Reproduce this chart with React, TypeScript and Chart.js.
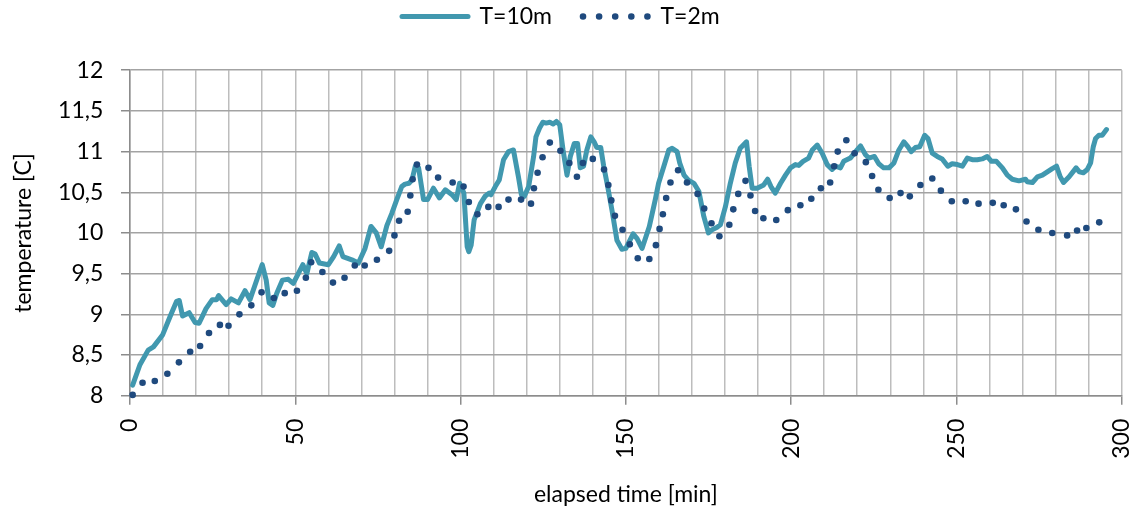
import React, { useEffect, useRef } from 'react';
import { Chart, registerables } from 'chart.js';

Chart.register(...registerables);

// T=10m series (elapsed minutes, temperature °C)
const time10 = [
  0.8, 3.0, 5.5, 7.1, 9.9, 12.1, 14.1, 14.9, 15.9, 17.9, 19.7, 20.9, 23.0, 24.9, 26.2, 26.8, 29.1, 30.6, 32.8, 34.8,
  36.3, 38.5, 40.0, 41.2, 42.1, 43.2, 44.4, 46.1, 47.9, 49.4, 52.3, 53.5, 55.0, 56.0, 57.3, 60.0, 61.6, 63.3, 64.4, 67.1,
  69.1, 71.1, 72.9, 74.5, 76.0, 77.7, 79.2, 80.7, 82.2, 83.2, 84.4, 85.3, 86.3, 87.3, 88.8, 90.0, 91.8, 93.6, 95.4, 97.4,
  98.7, 99.7, 101.0, 102.0, 102.5, 103.2, 104.1, 106.0, 107.4, 108.7, 109.2, 110.5, 111.7, 113.0, 114.5, 116.0, 117.5, 118.4, 119.3, 120.6,
  122.1, 122.8, 123.9, 124.9, 125.9, 127.0, 128.0, 129.0, 130.0, 131.0, 132.2, 133.2, 134.4, 135.4, 136.2, 137.2, 138.2, 139.4, 140.4, 141.2,
  142.4, 143.3, 144.5, 145.8, 147.3, 148.8, 150.0, 152.2, 153.4, 154.9, 157.1, 158.9, 159.9, 161.5, 163.0, 164.0, 165.5, 166.3, 167.6, 168.9,
  170.6, 172.1, 173.6, 175.0, 176.1, 177.6, 178.6, 180.1, 181.6, 183.1, 184.6, 186.5, 187.3, 188.2, 189.7, 191.7, 192.9, 193.9, 195.2, 196.8,
  198.3, 199.8, 201.3, 202.3, 203.6, 205.3, 206.4, 207.9, 209.4, 210.9, 212.4, 213.4, 214.9, 215.9, 217.9, 219.5, 221.0, 222.5, 223.5, 225.2,
  226.5, 228.0, 229.6, 231.1, 232.6, 234.1, 235.3, 236.3, 237.6, 238.9, 240.4, 241.4, 242.7, 244.2, 245.7, 247.4, 248.7, 250.3, 251.8, 253.3,
  254.8, 256.3, 257.8, 259.3, 260.6, 262.1, 263.9, 265.4, 266.9, 268.9, 270.9, 271.4, 273.0, 274.5, 276.0, 277.5, 279.0, 280.3, 281.4, 282.4,
  284.1, 286.2, 287.2, 288.4, 289.6, 290.6, 291.4, 292.1, 293.1, 294.1, 295.4,
];
const temp10 = [
  8.13, 8.38, 8.56, 8.6, 8.75, 8.97, 9.16, 9.17, 8.98, 9.02, 8.9, 8.89, 9.07, 9.18, 9.18, 9.23, 9.12, 9.19, 9.14, 9.29,
  9.18, 9.44, 9.61, 9.42, 9.14, 9.11, 9.26, 9.42, 9.43, 9.38, 9.61, 9.5, 9.76, 9.74, 9.63, 9.61, 9.71, 9.84, 9.71, 9.67,
  9.63, 9.81, 10.08, 10.0, 9.83, 10.09, 10.24, 10.41, 10.57, 10.6, 10.61, 10.65, 10.82, 10.8, 10.41, 10.41, 10.55, 10.43, 10.53, 10.47,
  10.41, 10.61, 10.49, 9.83, 9.77, 9.85, 10.16, 10.36, 10.45, 10.49, 10.47, 10.57, 10.65, 10.9, 11.0, 11.02, 10.69, 10.47, 10.45, 10.57,
  10.94, 11.18, 11.29, 11.36, 11.35, 11.36, 11.34, 11.37, 11.33, 11.02, 10.71, 10.94, 11.1, 11.1, 10.8, 10.82, 11.02, 11.18, 11.12, 11.05,
  11.05, 10.82, 10.57, 10.28, 9.91, 9.8, 9.81, 9.99, 9.93, 9.81, 10.08, 10.41, 10.61, 10.82, 11.02, 11.04, 11.0, 10.86, 10.71, 10.65,
  10.61, 10.51, 10.2, 10.0, 10.04, 10.07, 10.1, 10.32, 10.61, 10.86, 11.04, 11.12, 10.82, 10.55, 10.55, 10.59, 10.66, 10.57, 10.49, 10.61,
  10.71, 10.8, 10.84, 10.83, 10.88, 10.92, 11.02, 11.08, 10.98, 10.84, 10.78, 10.82, 10.8, 10.88, 10.92, 11.0, 11.07, 10.96, 10.92, 10.94,
  10.85, 10.8, 10.8, 10.86, 11.02, 11.12, 11.06, 11.0, 11.05, 11.06, 11.2, 11.16, 10.98, 10.94, 10.91, 10.82, 10.85, 10.84, 10.82, 10.92,
  10.9, 10.9, 10.91, 10.94, 10.88, 10.88, 10.8, 10.71, 10.66, 10.64, 10.66, 10.63, 10.62, 10.69, 10.71, 10.75, 10.79, 10.82, 10.69, 10.62,
  10.69, 10.8, 10.75, 10.74, 10.78, 10.86, 11.06, 11.16, 11.2, 11.2, 11.27,
];

// T=2m series
const time2 = [
  0.8, 3.8, 7.5, 11.3, 14.8, 18.2, 21.2, 23.9, 27.2, 29.8, 33.1, 36.7, 39.8, 43.5, 46.8, 50.5, 53.2, 54.8, 58.2, 61.4,
  64.9, 68.0, 71.0, 74.7, 78.4, 80.0, 81.4, 84.0, 84.8, 85.5, 86.8, 90.3, 93.2, 97.6, 100.9, 102.5, 105.1, 108.4, 111.5, 114.5,
  118.3, 121.3, 122.2, 123.3, 124.8, 127.0, 130.2, 132.9, 135.2, 137.0, 140.0, 143.4, 144.7, 145.6, 146.7, 149.0, 151.2, 153.6, 157.1, 159.1,
  160.2, 161.2, 162.2, 163.5, 165.8, 168.5, 171.7, 173.7, 175.9, 178.3, 181.3, 182.5, 184.0, 186.2, 187.7, 189.1, 191.6, 195.5, 199.0, 202.8,
  206.1, 209.0, 211.8, 213.0, 214.1, 216.7, 219.2, 222.6, 224.5, 226.4, 229.8, 233.1, 235.9, 239.1, 242.7, 245.3, 248.6, 252.8, 256.7, 261.0,
  264.3, 268.0, 271.2, 274.8, 279.0, 283.5, 286.5, 289.3, 293.2,
];
const temp2 = [
  8.01, 8.16, 8.18, 8.27, 8.41, 8.54, 8.61, 8.77, 8.87, 8.86, 9.0, 9.11, 9.27, 9.2, 9.26, 9.29, 9.45, 9.64, 9.52, 9.39,
  9.45, 9.6, 9.6, 9.67, 9.78, 9.97, 10.15, 10.26, 10.46, 10.66, 10.84, 10.8, 10.68, 10.62, 10.57, 10.38, 10.23, 10.32, 10.32, 10.41,
  10.41, 10.36, 10.55, 10.74, 10.93, 11.11, 11.01, 10.86, 10.69, 10.86, 10.91, 10.78, 10.59, 10.4, 10.21, 10.04, 9.86, 9.69, 9.68, 9.85,
  10.05, 10.23, 10.43, 10.62, 10.77, 10.62, 10.48, 10.3, 10.12, 9.96, 10.1, 10.29, 10.48, 10.64, 10.46, 10.27, 10.18, 10.16, 10.28, 10.34,
  10.42, 10.55, 10.62, 10.82, 11.0, 11.14, 10.98, 10.87, 10.7, 10.53, 10.43, 10.49, 10.45, 10.59, 10.67, 10.52, 10.39, 10.39, 10.36, 10.37,
  10.34, 10.29, 10.14, 10.04, 10.0, 9.97, 10.03, 10.06, 10.13,
];

const seriesLabels = ['T=10m', 'T=2m'];

const TEAL = '#4198AF';
const NAVY = '#1F4A7E';
const FONT = { family: 'Lato', size: 23 };
const TEXT = '#000000';

export default function App() {
  const ref = useRef<HTMLCanvasElement | null>(null);

  useEffect(() => {
    document.body.style.margin = '0';
    const canvas = ref.current;
    if (!canvas) return;

    const legendSpacer = {
      id: 'legendSpacer',
      beforeLayout(chart: any) {
        const lg = chart.legend;
        if (lg && !lg.__patched) {
          const orig = lg.fit;
          lg.fit = function () {
            orig.call(this);
            this.height = 96.2;
          };
          lg.__patched = true;
        }
      },
    };

    const chart = new Chart(canvas, {
      type: 'line',
      data: {
        datasets: [
          {
            label: seriesLabels[0],
            data: time10.map((x, i) => ({ x, y: temp10[i] })),
            borderColor: TEAL,
            backgroundColor: TEAL,
            borderWidth: 5,
            pointRadius: 0,
            tension: 0,
            borderJoinStyle: 'round',
            borderCapStyle: 'round',
            clip: false,
            order: 1,
          },
          {
            label: seriesLabels[1],
            data: time2.map((x, i) => ({ x, y: temp2[i] })),
            showLine: false,
            borderColor: NAVY,
            backgroundColor: NAVY,
            pointBackgroundColor: NAVY,
            pointBorderWidth: 0,
            pointRadius: 3.3,
            clip: false,
            order: 0,
          },
        ],
      } as any,
      options: {
        responsive: false,
        animation: false,
        layout: { padding: { top: -26, left: 0, right: 16.3, bottom: 0 } },
        plugins: {
          tooltip: { enabled: false },
          legend: {
            display: true,
            position: 'top',
            labels: {
              usePointStyle: true,
              pointStyleWidth: 66,
              padding: 31,
              color: TEXT,
              font: FONT,
              generateLabels: () => [
                {
                  text: seriesLabels[0],
                  fillStyle: TEAL,
                  strokeStyle: TEAL,
                  lineWidth: 5,
                  lineCap: 'round',
                  lineDash: [],
                  pointStyle: 'line',
                  hidden: false,
                  datasetIndex: 0,
                  fontColor: TEXT,
                },
                {
                  text: seriesLabels[1],
                  fillStyle: NAVY,
                  strokeStyle: NAVY,
                  lineWidth: 6.6,
                  lineCap: 'round',
                  lineDash: [0, 16.1],
                  pointStyle: 'line',
                  hidden: false,
                  datasetIndex: 1,
                  fontColor: TEXT,
                },
              ],
            },
          },
        },
        scales: {
          x: {
            type: 'linear',
            min: 0,
            max: 300,
            afterFit: (s: any) => {
              s.height = 110.3;
              s.paddingLeft = 0;
              s.paddingRight = 0;
            },
            ticks: {
              stepSize: 10,
              autoSkip: false,
              minRotation: 90,
              maxRotation: 90,
              padding: 14,
              color: TEXT,
              font: FONT,
              callback: (v: any) => (Number(v) % 50 === 0 ? String(v) : ''),
            },
            grid: {
              color: '#bdbdbd',
              lineWidth: 1.5,
              tickLength: 9,
              tickColor: (c: any) => (c.tick && c.tick.value % 50 === 0 ? '#8c8c8c' : 'rgba(0,0,0,0)'),
            },
            border: { color: '#8c8c8c', width: 1.5 },
            title: {
              display: true,
              text: 'elapsed time [min]',
              color: TEXT,
              font: FONT,
              padding: { top: 0, bottom: -2 },
            },
          },
          y: {
            min: 8,
            max: 12,
            afterFit: (s: any) => {
              s.width = 130;
              s.paddingTop = 0;
              s.paddingBottom = 0;
            },
            ticks: {
              stepSize: 0.5,
              padding: 17.7,
              color: TEXT,
              font: FONT,
              callback: (v: any) => String(v).replace('.', ','),
            },
            grid: {
              color: '#a3a3a3',
              lineWidth: 1.5,
              tickLength: 9,
              tickColor: '#8c8c8c',
            },
            border: { color: '#8c8c8c', width: 1.5 },
            title: {
              display: true,
              text: 'temperature [C]',
              color: TEXT,
              font: FONT,
              padding: { top: 10, bottom: 0 },
            },
          },
        },
      } as any,
      plugins: [legendSpacer],
    });

    return () => chart.destroy();
  }, []);

  return <canvas ref={ref} width={1138} height={506} style={{ display: 'block' }} />;
}
